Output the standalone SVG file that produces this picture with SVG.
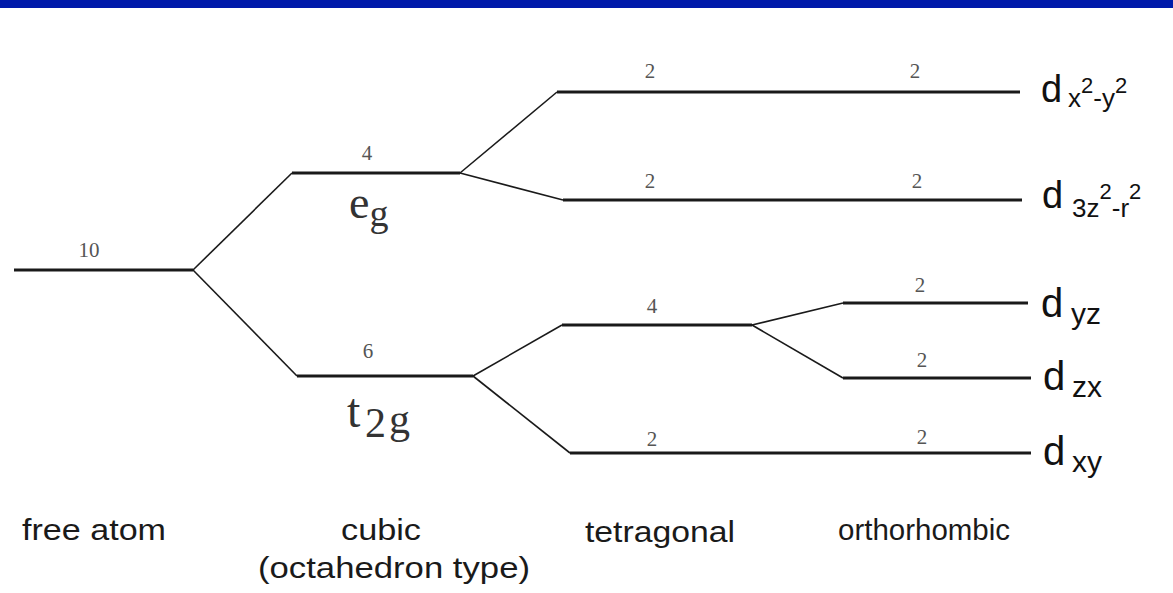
<svg xmlns="http://www.w3.org/2000/svg" width="1173" height="593" viewBox="0 0 1173 593">
<style>
.lvl{stroke:#1a1a1a;stroke-width:3;fill:none;stroke-linecap:butt}
.dg{stroke:#1a1a1a;stroke-width:1.6;fill:none}
.num{font-family:"Liberation Serif",serif;font-size:21px;fill:#555;text-anchor:middle}
.sym{font-family:"Liberation Serif",serif;fill:#333}
.d{font-family:"Liberation Sans",Arial,sans-serif;fill:#111}
.cap{font-family:"Liberation Sans",Arial,sans-serif;font-size:29px;fill:#1a1a1a}
</style>
<rect width="1173" height="593" fill="#fff"/>
<rect x="0" y="0" width="1173" height="8" fill="#001AAA"/>
<g id="connectors">
<line class="dg" x1="193" y1="270" x2="292" y2="173"/>
<line class="dg" x1="193" y1="270" x2="297" y2="376"/>
<line class="dg" x1="460" y1="173" x2="557" y2="92"/>
<line class="dg" x1="460" y1="173" x2="563" y2="200"/>
<line class="dg" x1="473" y1="376" x2="562" y2="325"/>
<line class="dg" x1="473" y1="376" x2="570" y2="453"/>
<line class="dg" x1="752" y1="325" x2="843" y2="303"/>
<line class="dg" x1="752" y1="325" x2="843" y2="378"/>
</g>
<g id="free-atom">
<line class="lvl" x1="14" y1="270" x2="193" y2="270"/>
<text class="num" x="89" y="257">10</text>
</g>
<g id="eg">
<line class="lvl" x1="292" y1="173" x2="460" y2="173"/>
<text class="num" x="367" y="160">4</text>
<text class="sym" x="349" y="218" font-size="46">e<tspan font-size="38" y="226">g</tspan></text>
</g>
<g id="t2g">
<line class="lvl" x1="297" y1="376" x2="473" y2="376"/>
<text class="num" x="368" y="358">6</text>
<text class="sym" x="347" y="427" font-size="48">t<tspan x="365" font-size="42" y="437">2</tspan><tspan x="389" font-size="42" y="433">g</tspan></text>
</g>
<g id="dx2y2">
<line class="lvl" x1="557" y1="92" x2="1020" y2="92"/>
<text class="num" x="650" y="78">2</text>
<text class="num" x="915" y="78">2</text>
<text class="d" x="1041" y="102" font-size="38">d<tspan x="1068" y="107" font-size="26">x</tspan><tspan y="93" font-size="22">2</tspan><tspan y="107" font-size="26">-y</tspan><tspan y="93" font-size="22">2</tspan></text>
</g>
<g id="d3z2r2">
<line class="lvl" x1="563" y1="200" x2="1022" y2="200"/>
<text class="num" x="650" y="188">2</text>
<text class="num" x="917" y="188">2</text>
<text class="d" x="1042" y="208" font-size="38">d<tspan x="1072" y="217" font-size="26">3z</tspan><tspan y="199" font-size="22">2</tspan><tspan y="217" font-size="26">-r</tspan><tspan y="199" font-size="22">2</tspan></text>
</g>
<g id="tetragonal-4">
<line class="lvl" x1="562" y1="325" x2="752" y2="325"/>
<text class="num" x="652" y="313">4</text>
</g>
<g id="dyz">
<line class="lvl" x1="843" y1="303" x2="1028" y2="303"/>
<text class="num" x="920" y="292">2</text>
<text class="d" x="1041" y="317" font-size="40">d<tspan x="1071" y="324" font-size="30">yz</tspan></text>
</g>
<g id="dzx">
<line class="lvl" x1="843" y1="378" x2="1031" y2="378"/>
<text class="num" x="922" y="367">2</text>
<text class="d" x="1043" y="390" font-size="40">d<tspan x="1072" y="397" font-size="30">zx</tspan></text>
</g>
<g id="dxy">
<line class="lvl" x1="570" y1="453" x2="1031" y2="453"/>
<text class="num" x="652" y="446">2</text>
<text class="num" x="922" y="444">2</text>
<text class="d" x="1043" y="465" font-size="40">d<tspan x="1072" y="472" font-size="30">xy</tspan></text>
</g>
<g id="axis-labels">
<text class="cap" x="22" y="540" textLength="144" lengthAdjust="spacingAndGlyphs">free atom</text>
<text class="cap" x="341" y="540" textLength="80" lengthAdjust="spacingAndGlyphs">cubic</text>
<text class="cap" x="258" y="578" textLength="272" lengthAdjust="spacingAndGlyphs">(octahedron type)</text>
<text class="cap" x="585" y="542" textLength="150" lengthAdjust="spacingAndGlyphs">tetragonal</text>
<text class="cap" x="838" y="540" textLength="172" lengthAdjust="spacingAndGlyphs">orthorhombic</text>
</g>
</svg>
